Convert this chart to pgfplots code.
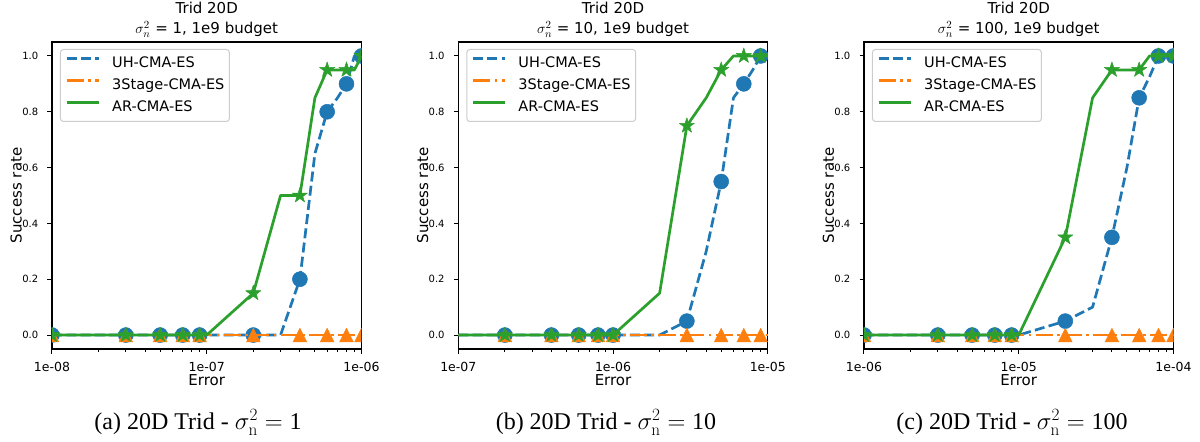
\documentclass[border=0pt]{standalone}
\usepackage[no-math]{fontspec}
\setmainfont{DejaVu Sans}
\newfontfamily\capfont{Liberation Serif}
\usepackage{pgfplots}
\pgfplotsset{compat=1.18}
\usepackage{pgfplotstable}

\definecolor{c1}{HTML}{1F77B4}
\definecolor{c2}{HTML}{FF7F0E}
\definecolor{c3}{HTML}{2CA02C}

\def\ticky{\fontsize{10bp}{12bp}\selectfont}
\def\tickx{\fontsize{12.5bp}{15bp}\selectfont}
\def\lab{\fontsize{15bp}{18bp}\selectfont}
\def\leg{\fontsize{14.5bp}{17bp}\selectfont}
\def\capf{\capfont\fontsize{24bp}{28bp}\selectfont}

\pgfdeclareplotmark{mtri}{%
 \pgfpathmoveto{\pgfqpoint{0pt}{\pgfplotmarksize}}%
 \pgfpathlineto{\pgfqpoint{-\pgfplotmarksize}{-\pgfplotmarksize}}%
 \pgfpathlineto{\pgfqpoint{\pgfplotmarksize}{-\pgfplotmarksize}}%
 \pgfpathclose\pgfusepathqfillstroke}
\pgfdeclareplotmark{fstar}{%
 \pgfpathmoveto{\pgfpointpolar{90}{\pgfplotmarksize}}%
 \pgfpathlineto{\pgfpointpolar{126}{0.382\pgfplotmarksize}}%
 \pgfpathlineto{\pgfpointpolar{162}{\pgfplotmarksize}}%
 \pgfpathlineto{\pgfpointpolar{198}{0.382\pgfplotmarksize}}%
 \pgfpathlineto{\pgfpointpolar{234}{\pgfplotmarksize}}%
 \pgfpathlineto{\pgfpointpolar{270}{0.382\pgfplotmarksize}}%
 \pgfpathlineto{\pgfpointpolar{306}{\pgfplotmarksize}}%
 \pgfpathlineto{\pgfpointpolar{342}{0.382\pgfplotmarksize}}%
 \pgfpathlineto{\pgfpointpolar{18}{\pgfplotmarksize}}%
 \pgfpathlineto{\pgfpointpolar{54}{0.382\pgfplotmarksize}}%
 \pgfpathclose\pgfusepathqfillstroke}

% panel (a): sigma^2 = 1
\pgfplotstableread{
x uh st ar
1e-8 0 0 0
2e-8 0 0 0
3e-8 0 0 0
4e-8 0 0 0
5e-8 0 0 0
6e-8 0 0 0
7e-8 0 0 0
8e-8 0 0 0
9e-8 0 0 0
1e-7 0 0 0
2e-7 0 0 0.15
3e-7 0 0 0.5
4e-7 0.2 0 0.5
5e-7 0.65 0 0.85
6e-7 0.8 0 0.95
7e-7 0.85 0 0.95
8e-7 0.9 0 0.95
9e-7 1.0 0 0.95
1e-6 1.0 0 1.0
}\dataA
% panel (b): sigma^2 = 10
\pgfplotstableread{
x uh st ar
1e-7 0 0 0
2e-7 0 0 0
3e-7 0 0 0
4e-7 0 0 0
5e-7 0 0 0
6e-7 0 0 0
7e-7 0 0 0
8e-7 0 0 0
9e-7 0 0 0
1e-6 0 0 0
2e-6 0 0 0.15
3e-6 0.05 0 0.75
4e-6 0.3 0 0.85
5e-6 0.55 0 0.95
6e-6 0.85 0 1.0
7e-6 0.9 0 1.0
8e-6 0.95 0 1.0
9e-6 1.0 0 1.0
1e-5 1.0 0 1.0
}\dataB
% panel (c): sigma^2 = 100
\pgfplotstableread{
x uh st ar
1e-6 0 0 0
2e-6 0 0 0
3e-6 0 0 0
4e-6 0 0 0
5e-6 0 0 0
6e-6 0 0 0
7e-6 0 0 0
8e-6 0 0 0
9e-6 0 0 0
1e-5 0 0 0
2e-5 0.05 0 0.35
3e-5 0.1 0 0.85
4e-5 0.35 0 0.95
5e-5 0.6 0 0.95
6e-5 0.85 0 0.95
7e-5 0.925 0 1.0
8e-5 1.0 0 1.0
9e-5 1.0 0 1.0
1e-4 1.0 0 1.0
}\dataC

\pgfplotsset{
  uh/.style={c1, line width=2.7bp, line join=round, dash pattern=on 10bp off 4.3bp,
    mark=*, mark size=7.5bp, mark options={solid, fill=c1, draw=c1, line width=0.5bp}},
  st/.style={c2, line width=2.7bp, line join=round, dash pattern=on 17.3bp off 4.3bp on 2.7bp off 4.3bp,
    mark=mtri, mark size=6.8bp, mark options={solid, fill=c2, draw=c2, line width=0.5bp}},
  ar/.style={c3, line width=2.7bp, line join=round, solid,
    mark=fstar, mark size=8bp, mark options={solid, fill=c3, draw=c3, line width=0.5bp}},
}
\pgfplotsset{
    scale only axis, width=309.5bp, height=307bp,
    ymin=-0.05, ymax=1.05,
    ytick={0,0.2,0.4,0.6,0.8,1.0},
    clip marker paths=true,
    tick align=outside, tick pos=left,
    major tick length=4.5bp, minor tick length=2.5bp,
    tick style={black, line width=1bp},
    axis line style={black, line width=1.1bp},
    /pgf/number format/assume math mode=true,
    yticklabel style={font=\ticky, anchor=east, inner sep=0pt, xshift=-9bp,
      /pgf/number format/fixed, /pgf/number format/fixed zerofill, /pgf/number format/precision=1},
    xticklabel style={font=\tickx, anchor=base, inner sep=0pt, yshift=-18bp},
    every axis title/.style={at={(0.5,1)}, anchor=base, yshift=28.7bp, font=\lab, inner sep=0pt},
    every axis x label/.style={at={(axis description cs:0.5,-0.1205)}, anchor=base, font=\lab, inner sep=0pt},
    every axis y label/.style={at={(axis description cs:-0.0977,0.5)}, rotate=90, anchor=base, font=\lab, inner sep=0pt},
    legend cell align=left,
    legend image code/.code={\draw[#1] (0bp,5.3bp) -- (32bp,5.3bp);},
    legend style={at={(0,1)}, anchor=north west, xshift=8bp, yshift=-7bp,
      draw=black!20, line width=1bp, rounded corners=3bp, fill=white, fill opacity=0.8, text opacity=1,
      font=\leg, inner xsep=5bp, inner ysep=7.2bp, column sep=12bp, row sep=8.4bp,
      nodes={inner sep=0pt, text height=10.6bp, text depth=3bp}},
}

\begin{document}
\begin{tikzpicture}
\useasboundingbox (0,0) rectangle (1200bp,442bp);
% (a)
\begin{axis}[at={(52bp,93bp)}, anchor=south west, xmode=log, xmin=1e-8, xmax=1e-6,
  xlabel={Error}, ylabel={Success rate}, title={Trid 20D},
  xtick={1e-8,1e-7,1e-6}, xticklabels={1e-08,1e-07,1e-06},
  minor xtick={2e-8,3e-8,4e-8,5e-8,6e-8,7e-8,8e-8,9e-8,2e-7,3e-7,4e-7,5e-7,6e-7,7e-7,8e-7,9e-7},
  extra description/.code={\node[font=\lab, anchor=base, inner sep=0pt, yshift=8bp] at (axis description cs:0.5,1) {$\sigma_n^2$ = 1, 1e9 budget};}]
\addplot[uh, mark phase=1, mark repeat=2] table[x=x, y=uh] {\dataA};
\addlegendentry{UH-CMA-ES}
\addplot[st, mark phase=1, mark repeat=2] table[x=x, y=st] {\dataA};
\addlegendentry{3Stage-CMA-ES}
\addplot[ar, mark phase=1, mark repeat=2] table[x=x, y=ar] {\dataA};
\addlegendentry{AR-CMA-ES}
\end{axis}
% (b)
\begin{axis}[at={(458.3bp,93bp)}, anchor=south west, xmode=log, xmin=1e-7, xmax=1e-5,
  xlabel={Error}, ylabel={Success rate}, title={Trid 20D},
  xtick={1e-7,1e-6,1e-5}, xticklabels={1e-07,1e-06,1e-05},
  minor xtick={2e-7,3e-7,4e-7,5e-7,6e-7,7e-7,8e-7,9e-7,2e-6,3e-6,4e-6,5e-6,6e-6,7e-6,8e-6,9e-6},
  extra description/.code={\node[font=\lab, anchor=base, inner sep=0pt, yshift=8bp] at (axis description cs:0.5,1) {$\sigma_n^2$ = 10, 1e9 budget};}]
\addplot[uh, mark phase=2, mark repeat=2] table[x=x, y=uh] {\dataB};
\addlegendentry{UH-CMA-ES}
\addplot[st, mark phase=2, mark repeat=2] table[x=x, y=st] {\dataB};
\addlegendentry{3Stage-CMA-ES}
\addplot[ar, mark phase=2, mark repeat=2] table[x=x, y=ar] {\dataB};
\addlegendentry{AR-CMA-ES}
\end{axis}
% (c)
\begin{axis}[at={(864bp,93bp)}, anchor=south west, xmode=log, xmin=1e-6, xmax=1e-4,
  xlabel={Error}, ylabel={Success rate}, title={Trid 20D},
  xtick={1e-6,1e-5,1e-4}, xticklabels={1e-06,1e-05,1e-04},
  minor xtick={2e-6,3e-6,4e-6,5e-6,6e-6,7e-6,8e-6,9e-6,2e-5,3e-5,4e-5,5e-5,6e-5,7e-5,8e-5,9e-5},
  extra description/.code={\node[font=\lab, anchor=base, inner sep=0pt, yshift=8bp] at (axis description cs:0.5,1) {$\sigma_n^2$ = 100, 1e9 budget};}]
\addplot[uh, mark phase=1, mark repeat=2] table[x=x, y=uh] {\dataC};
\addlegendentry{UH-CMA-ES}
\addplot[st, mark phase=1, mark repeat=2] table[x=x, y=st] {\dataC};
\addlegendentry{3Stage-CMA-ES}
\addplot[ar, mark phase=1, mark repeat=2] table[x=x, y=ar] {\dataC};
\addlegendentry{AR-CMA-ES}
\end{axis}
% sub-captions
\node[font=\capf, anchor=base] at (198bp,13bp) {(a) 20D Trid - $\sigma^2_{\mathrm{n}} = \mbox{1}$};
\node[font=\capf, anchor=base] at (606bp,13bp) {(b) 20D Trid - $\sigma^2_{\mathrm{n}} = \mbox{10}$};
\node[font=\capf, anchor=base] at (1012bp,13bp) {(c) 20D Trid - $\sigma^2_{\mathrm{n}} = \mbox{100}$};
\end{tikzpicture}
\end{document}
